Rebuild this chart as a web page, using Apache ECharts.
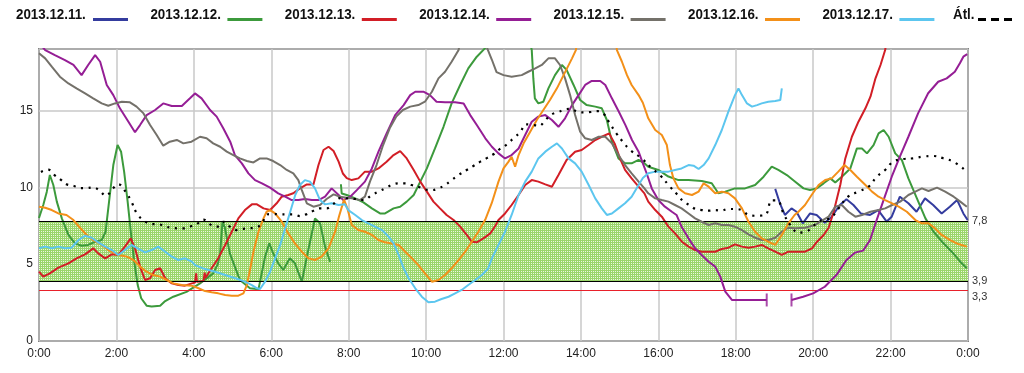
<!DOCTYPE html>
<html><head><meta charset="utf-8">
<script src="https://cdn.jsdelivr.net/npm/echarts@6/dist/echarts.min.js"></script>
<style>html,body{margin:0;padding:0;background:#fff}#c{width:1024px;height:373px}</style>
</head><body><div id="c"></div>
<script>
// ---- data: [hour, mmol/l]; null = gap in the record ----
const dayNames = ['2013.12.11.','2013.12.12.','2013.12.13.','2013.12.14.','2013.12.15.','2013.12.16.','2013.12.17.'];
const avgName = 'Átl.';
const xTicks = ['0:00','2:00','4:00','6:00','8:00','10:00','12:00','14:00','16:00','18:00','20:00','22:00','0:00'];
const limitHigh = 7.8, limitLow = 3.9, limitHypo = 3.3;

const d11 = [[19.02,9.9],[19.14,8.96],[19.27,8.2],[19.44,8.63],[19.57,8.41],[19.73,7.66],[19.92,8.3],[20.09,8.2],[20.3,7.7],[20.48,8.09],[20.69,8.85],[20.86,9.22],[21.04,8.85],[21.23,8.3],[21.47,8.2],[21.68,8.52],[21.9,7.77],[22.03,8.09],[22.24,9.39],[22.46,8.96],[22.67,8.41],[22.89,9.28],[23.1,8.85],[23.32,8.3],[23.53,8.74],[23.72,9.17],[23.88,8.3],[23.99,7.87]];

const d12 = [[0,8.0],[0.11,8.85],[0.2,9.7],[0.28,10.8],[0.37,10.15],[0.46,9.07],[0.59,7.98],[0.76,6.9],[0.93,6.35],[1.1,6.2],[1.27,6.25],[1.45,6.46],[1.62,6.57],[1.72,7.11],[1.81,9.07],[1.92,11.45],[2.03,12.75],[2.12,12.32],[2.2,11.0],[2.29,9.07],[2.38,6.9],[2.46,5.16],[2.55,3.64],[2.64,2.78],[2.78,2.3],[2.91,2.25],[3.13,2.3],[3.26,2.6],[3.47,2.88],[3.81,3.2],[4.16,3.75],[4.5,4.4],[4.62,5.0],[4.68,5.7],[4.74,7.77],[4.8,7.4],[4.93,5.7],[5.19,3.97],[5.45,3.43],[5.67,3.36],[5.84,5.48],[5.95,6.35],[6.05,5.7],[6.18,5.06],[6.31,4.62],[6.48,5.38],[6.61,5.06],[6.79,3.86],[6.92,5.48],[7.13,7.98],[7.26,7.66],[7.39,6.14],[7.52,5.16],null,[7.8,10.2],[7.82,9.6],[7.95,9.5],[8.17,9.28],[8.38,9.02],[8.6,8.63],[8.81,8.3],[8.94,8.3],[9.16,8.63],[9.33,8.74],[9.5,9.07],[9.68,9.5],[9.85,10.37],[10.02,11.23],[10.23,12.53],[10.45,13.94],[10.66,15.46],[10.88,16.66],[11.09,17.74],[11.31,18.5],[11.52,19.04],[11.7,20.5],[12.6,20.5],[12.73,18.93],[12.77,17.1],[12.81,15.79],[12.9,15.46],[13.03,15.57],[13.16,16.44],[13.33,17.3],[13.51,17.96],[13.63,17.64],[13.81,16.66],[13.98,15.68],[14.15,15.35],[14.37,15.25],[14.54,15.14],[14.67,14.38],[14.8,12.97],[14.97,11.88],[15.14,11.56],[15.31,11.56],[15.49,11.78],[15.64,11.56],[15.74,11.34],[16.0,11.13],[16.26,10.7],[16.52,10.47],[16.78,10.47],[17.12,10.41],[17.38,10.26],[17.55,9.61],[17.73,9.72],[17.98,9.93],[18.24,9.93],[18.5,10.15],[18.72,10.69],[18.93,11.34],[19.1,11.13],[19.32,10.8],[19.52,10.4],[19.75,9.93],[19.92,9.82],[20.09,9.93],[20.27,10.26],[20.44,10.58],[20.57,10.32],[20.74,10.69],[20.96,11.23],[21.13,12.53],[21.26,12.53],[21.39,12.21],[21.56,12.75],[21.69,13.51],[21.82,13.73],[21.95,13.29],[22.12,12.21],[22.29,11.78],[22.46,10.58],[22.68,9.28],[22.9,7.98],[23.11,7.11],[23.33,6.46],[23.58,5.81],[23.8,5.16],[23.97,4.73]];

const d13 = [[0,4.51],[0.11,4.19],[0.28,4.4],[0.5,4.77],[0.76,5.05],[0.97,5.38],[1.19,5.64],[1.4,6.03],[1.53,5.7],[1.71,5.38],[1.88,5.64],[2.05,5.6],[2.22,6.14],[2.37,6.68],[2.48,6.03],[2.61,4.84],[2.74,3.97],[2.87,4.08],[3.0,4.62],[3.13,4.73],[3.26,4.08],[3.43,3.75],[3.6,3.64],[3.77,3.6],[3.95,3.75],[4.03,3.8],[4.06,4.4],[4.08,3.85],[4.25,3.9],[4.28,4.45],[4.3,4.1],[4.46,4.73],[4.63,5.38],[4.81,6.25],[4.98,7.11],[5.15,7.98],[5.32,8.52],[5.5,8.89],[5.63,8.89],[5.8,8.63],[5.97,8.52],[6.14,8.96],[6.27,9.39],[6.44,9.5],[6.57,9.61],[6.74,9.93],[6.92,10.19],[7.09,10.19],[7.22,11.45],[7.35,12.43],[7.48,12.64],[7.61,12.36],[7.74,11.67],[7.85,10.9],[7.95,10.6],[8.08,10.47],[8.25,10.58],[8.42,11.02],[8.6,11.02],[8.77,11.23],[8.98,11.67],[9.16,12.1],[9.33,12.36],[9.5,11.88],[9.68,11.13],[9.85,10.37],[10.02,9.72],[10.19,9.07],[10.36,8.63],[10.53,8.2],[10.71,7.87],[10.88,7.44],[11.05,6.9],[11.18,6.46],[11.31,6.42],[11.48,6.68],[11.66,7.0],[11.79,7.5],[11.87,7.87],[12.04,8.3],[12.21,8.85],[12.39,9.5],[12.56,10.15],[12.73,10.47],[12.9,10.37],[13.08,10.19],[13.25,10.04],[13.42,10.8],[13.63,11.78],[13.85,12.32],[14.02,12.43],[14.2,12.75],[14.37,13.08],[14.54,13.29],[14.73,13.51],[14.87,12.86],[15.01,11.88],[15.14,11.13],[15.31,10.58],[15.49,10.04],[15.64,9.61],[15.74,9.07],[15.92,8.52],[16.09,8.09],[16.26,7.44],[16.43,7.0],[16.61,6.46],[16.78,6.14],[16.95,5.92],[17.12,5.81],[17.3,5.81],[17.47,5.81],[17.64,5.99],[17.81,6.07],[17.98,6.29],[18.16,6.14],[18.33,6.07],[18.5,6.14],[18.67,6.25],[18.84,6.03],[19.02,5.81],[19.19,5.6],[19.36,5.81],[19.54,5.81],[19.79,5.81],[19.97,6.03],[20.1,6.46],[20.27,6.9],[20.4,7.37],[20.53,8.41],[20.7,10.15],[20.83,11.88],[21.0,13.29],[21.17,14.27],[21.35,15.14],[21.48,15.9],[21.61,17.09],[21.74,17.96],[21.86,18.93],[21.95,20.5]];

const d14 = [[0,19.4],[0.16,18.93],[0.41,18.6],[0.67,18.28],[0.89,17.96],[1.1,17.3],[1.27,17.96],[1.45,18.6],[1.58,18.17],[1.75,16.66],[1.92,16.0],[2.09,15.14],[2.31,14.27],[2.48,13.58],[2.61,14.05],[2.78,14.7],[3.0,15.03],[3.21,15.46],[3.43,15.29],[3.69,15.29],[3.9,15.79],[4.03,16.11],[4.2,15.79],[4.42,15.03],[4.59,14.6],[4.76,13.84],[4.94,12.97],[5.06,12.1],[5.24,11.56],[5.41,10.91],[5.58,10.47],[5.76,10.26],[5.97,9.98],[6.18,9.61],[6.36,9.39],[6.53,9.17],[6.7,9.17],[6.87,9.24],[7.05,9.17],[7.22,9.17],[7.39,9.39],[7.56,9.93],[7.74,9.5],[7.86,9.17],[8.04,9.39],[8.21,9.82],[8.42,10.37],[8.6,11.23],[8.77,12.32],[8.98,13.51],[9.2,14.7],[9.42,15.35],[9.59,16.0],[9.72,16.22],[9.93,16.22],[10.1,16.0],[10.27,15.57],[10.49,15.53],[10.75,15.53],[10.97,15.46],[11.14,14.7],[11.31,14.05],[11.53,13.19],[11.7,12.64],[11.87,12.21],[12.04,11.88],[12.21,12.1],[12.39,12.53],[12.56,13.4],[12.73,14.27],[12.9,14.6],[13.08,14.7],[13.25,14.38],[13.42,13.94],[13.59,14.49],[13.77,15.35],[13.94,16.0],[14.11,16.66],[14.28,16.92],[14.5,16.92],[14.63,16.66],[14.8,15.79],[14.98,14.92],[15.15,14.05],[15.32,13.08],[15.49,12.32],[15.6,11.56],[15.7,10.9],[15.83,9.93],[16.0,9.17],[16.17,8.74],[16.35,8.41],[16.47,8.2],[16.6,7.44],[16.78,6.68],[16.95,6.03],[17.12,5.6],[17.3,5.16],[17.47,4.84],[17.6,4.19],[17.73,3.21],[17.9,2.67],[18.16,2.67],[18.5,2.67],[18.8,2.67],null,[19.44,2.67],[19.74,2.88],[20.0,3.1],[20.3,3.53],[20.6,4.29],[20.86,5.27],[21.08,5.75],[21.29,5.88],[21.47,6.57],[21.64,7.87],[21.85,9.39],[22.03,10.69],[22.24,12.0],[22.46,13.29],[22.71,14.81],[22.97,16.12],[23.23,16.87],[23.45,17.09],[23.66,17.52],[23.79,18.07],[23.88,18.5],[23.98,18.67]];

const d15 = [[0,18.72],[0.16,18.39],[0.33,17.85],[0.54,17.2],[0.76,16.76],[0.97,16.44],[1.19,16.11],[1.4,15.79],[1.62,15.46],[1.79,15.31],[1.96,15.46],[2.14,15.57],[2.35,15.53],[2.52,15.25],[2.7,14.81],[2.87,14.05],[3.04,13.4],[3.21,12.71],[3.38,12.97],[3.56,13.08],[3.73,12.86],[3.94,12.97],[4.16,13.29],[4.33,13.19],[4.5,12.86],[4.68,12.64],[4.85,12.32],[5.02,12.1],[5.19,11.88],[5.37,11.71],[5.54,11.62],[5.71,11.88],[5.88,11.88],[6.05,11.71],[6.23,11.45],[6.4,11.13],[6.57,10.91],[6.7,10.47],[6.79,9.82],[6.92,8.96],[7.09,8.74],[7.26,8.85],[7.43,9.24],[7.61,9.54],[7.78,9.39],[8.08,9.28],[8.29,9.17],[8.42,9.39],[8.55,10.37],[8.72,11.45],[8.89,12.75],[9.06,13.84],[9.23,14.6],[9.4,15.03],[9.59,15.25],[9.8,15.35],[9.97,15.57],[10.15,16.22],[10.32,17.09],[10.49,17.52],[10.66,18.17],[10.84,18.93],[10.95,20.5],[11.45,20.5],[11.58,19.04],[11.7,18.3],[11.82,17.5],[12.0,17.3],[12.21,17.2],[12.47,17.3],[12.64,17.52],[12.82,17.74],[12.99,17.96],[13.16,18.39],[13.33,18.39],[13.46,17.96],[13.59,17.09],[13.72,16.0],[13.85,14.7],[13.98,13.62],[14.11,13.19],[14.28,13.08],[14.46,13.29],[14.63,13.29],[14.8,12.86],[14.97,12.1],[15.14,11.45],[15.31,10.91],[15.49,10.37],[15.64,9.93],[15.74,9.61],[15.92,9.28],[16.09,9.17],[16.26,9.07],[16.43,8.85],[16.6,8.63],[16.78,8.3],[16.95,7.98],[17.12,7.76],[17.3,7.55],[17.47,7.66],[17.64,7.55],[17.81,7.55],[17.98,7.44],[18.16,7.22],[18.33,6.94],[18.5,6.72],[18.67,6.57],[18.84,6.57],[19.02,6.72],[19.19,7.11],[19.36,7.37],[19.54,7.33],[19.79,7.37],[20.05,7.55],[20.22,7.81],[20.4,8.09],[20.57,8.74],[20.74,8.85],[20.91,8.41],[21.09,8.09],[21.26,8.2],[21.48,8.41],[21.69,8.52],[21.86,8.63],[22.04,8.85],[22.25,9.07],[22.46,9.5],[22.64,9.72],[22.81,9.93],[22.98,9.76],[23.2,9.98],[23.41,9.72],[23.63,9.39],[23.8,9.07],[23.97,8.74]];

const d16 = [[0,8.74],[0.16,8.67],[0.33,8.52],[0.5,8.3],[0.71,8.2],[0.89,7.87],[1.06,7.37],[1.23,6.9],[1.4,6.57],[1.62,6.25],[1.83,5.86],[2.05,5.6],[2.27,5.49],[2.44,5.27],[2.61,4.84],[2.78,4.51],[2.95,4.29],[3.13,4.19],[3.3,3.97],[3.47,3.75],[3.69,3.64],[3.94,3.6],[4.12,3.43],[4.29,3.25],[4.46,3.17],[4.63,3.1],[4.81,2.99],[4.98,2.95],[5.15,2.95],[5.28,3.1],[5.37,3.64],[5.46,4.73],[5.54,5.81],[5.67,7.11],[5.8,7.98],[5.88,8.41],[5.97,8.52],[6.1,8.3],[6.27,7.76],[6.44,7.0],[6.61,6.35],[6.79,5.81],[6.96,5.38],[7.13,5.27],[7.3,5.49],[7.48,6.03],[7.65,7.11],[7.75,8.1],[7.88,9.2],[7.97,8.6],[8.08,7.55],[8.25,7.22],[8.42,7.11],[8.6,6.9],[8.77,6.57],[8.94,6.42],[9.11,6.35],[9.29,6.25],[9.46,5.81],[9.63,5.38],[9.8,4.94],[9.97,4.4],[10.15,3.86],[10.32,3.97],[10.49,4.29],[10.66,4.73],[10.84,5.27],[11.01,5.81],[11.18,6.46],[11.35,7.11],[11.53,7.9],[11.7,9.0],[11.87,10.37],[12.0,11.23],[12.13,11.67],[12.21,11.99],[12.3,11.34],[12.39,12.1],[12.52,12.86],[12.69,13.62],[12.86,14.38],[13.03,15.03],[13.2,15.68],[13.38,16.44],[13.51,17.09],[13.64,17.74],[13.77,18.39],[13.87,18.93],[13.95,20.5],[14.85,20.5],[14.93,18.93],[15.06,18.17],[15.19,17.3],[15.31,16.66],[15.49,16.0],[15.6,15.5],[15.74,14.49],[15.92,13.73],[16.09,13.4],[16.22,12.75],[16.3,11.45],[16.39,10.58],[16.52,9.93],[16.69,9.61],[16.87,9.5],[17.04,9.72],[17.17,10.26],[17.3,10.04],[17.47,9.61],[17.64,9.72],[17.81,9.61],[17.98,9.28],[18.16,8.63],[18.33,7.76],[18.5,7.11],[18.67,6.68],[18.84,6.46],[19.02,6.25],[19.19,6.9],[19.36,7.66],[19.52,8.2],[19.62,8.41],[19.79,8.85],[19.96,9.5],[20.14,10.15],[20.31,10.47],[20.48,10.58],[20.65,11.02],[20.81,11.45],[20.96,11.13],[21.13,10.69],[21.35,10.15],[21.52,9.72],[21.69,9.39],[21.86,9.17],[22.04,8.96],[22.21,8.74],[22.42,8.41],[22.64,7.87],[22.81,7.66],[22.98,7.66],[23.15,7.33],[23.32,6.9],[23.54,6.57],[23.75,6.31],[23.97,6.14]];

const d17 = [[0,6.03],[0.16,6.14],[0.33,6.03],[0.5,6.14],[0.67,6.03],[0.84,6.07],[1.02,6.57],[1.19,6.85],[1.36,6.72],[1.53,6.42],[1.71,6.14],[1.88,5.92],[2.05,5.6],[2.22,5.92],[2.39,6.25],[2.57,5.99],[2.74,5.77],[2.91,5.92],[3.08,6.14],[3.26,5.81],[3.43,5.49],[3.6,5.27],[3.77,5.38],[3.95,5.16],[4.03,4.94],[4.29,4.68],[4.55,4.51],[4.81,4.29],[5.07,4.08],[5.32,3.86],[5.5,3.64],[5.63,3.43],[5.71,3.38],[5.84,3.86],[5.97,4.51],[6.1,5.38],[6.23,6.25],[6.36,7.33],[6.49,8.41],[6.62,9.5],[6.74,10.15],[6.87,10.47],[7.0,10.37],[7.13,9.93],[7.26,9.17],[7.39,8.89],[7.56,8.96],[7.74,8.85],[7.9,8.9],[7.99,8.52],[8.17,8.2],[8.34,7.87],[8.51,7.66],[8.68,7.44],[8.86,7.22],[9.03,6.79],[9.16,6.35],[9.29,5.6],[9.42,4.73],[9.55,4.08],[9.72,3.43],[9.89,2.88],[10.06,2.52],[10.23,2.56],[10.4,2.73],[10.58,2.88],[10.75,3.1],[10.92,3.32],[11.09,3.64],[11.27,3.97],[11.44,4.29],[11.6,4.7],[11.7,5.38],[11.87,6.25],[12.04,7.11],[12.21,8.2],[12.39,9.5],[12.56,10.37],[12.73,11.02],[12.9,11.88],[13.08,12.32],[13.25,12.64],[13.38,12.86],[13.51,12.53],[13.68,11.88],[13.85,11.56],[14.02,11.02],[14.2,10.15],[14.37,9.28],[14.54,8.63],[14.67,8.2],[14.8,8.3],[14.97,8.63],[15.14,8.96],[15.31,9.39],[15.49,10.15],[15.6,10.6],[15.74,10.91],[15.92,11.02],[16.09,11.02],[16.26,11.02],[16.43,11.13],[16.6,11.23],[16.78,11.45],[16.91,11.41],[17.04,11.19],[17.17,11.45],[17.3,11.88],[17.47,12.75],[17.64,13.73],[17.81,14.92],[17.98,16.0],[18.07,16.44],[18.16,16.0],[18.29,15.46],[18.42,15.25],[18.55,15.35],[18.67,15.46],[18.84,15.57],[19.02,15.62],[19.15,15.68],[19.19,16.44]];

const avg = [[0.05,11.0],[0.24,11.15],[0.4,10.8],[0.56,10.5],[0.71,10.2],[0.89,10.1],[1.06,9.95],[1.23,9.95],[1.4,10.0],[1.56,9.8],[1.73,9.45],[1.9,9.9],[2.05,10.2],[2.24,9.7],[2.39,9.05],[2.54,8.25],[2.73,7.8],[2.91,7.6],[3.08,7.6],[3.26,7.45],[3.43,7.37],[3.6,7.33],[3.75,7.33],[3.9,7.44],[4.07,7.59],[4.25,7.9],[4.42,7.59],[4.6,7.44],[4.77,7.76],[4.93,7.44],[5.11,7.22],[5.24,7.29],[5.41,7.33],[5.58,7.37],[5.74,7.59],[5.91,8.24],[6.05,8.26],[6.22,8.24],[6.4,8.24],[6.57,8.24],[6.74,8.13],[6.9,8.24],[7.09,8.48],[7.26,8.63],[7.43,8.63],[7.6,8.9],[7.78,9.3],[7.99,9.28],[8.17,9.24],[8.38,9.17],[8.6,9.5],[8.77,9.72],[8.94,9.93],[9.11,10.15],[9.29,10.26],[9.46,10.26],[9.63,10.15],[9.8,10.04],[9.97,9.87],[10.15,9.82],[10.32,9.93],[10.49,10.15],[10.66,10.47],[10.84,10.8],[11.05,11.13],[11.22,11.39],[11.4,11.67],[11.57,11.9],[11.74,12.15],[11.91,12.5],[12.09,12.8],[12.26,13.2],[12.43,13.58],[12.58,14.1],[12.77,14.05],[12.92,14.0],[13.09,14.4],[13.25,14.75],[13.42,14.9],[13.59,15.07],[13.75,15.1],[13.92,14.9],[14.09,14.88],[14.26,14.9],[14.42,14.96],[14.58,14.8],[14.73,14.22],[14.92,13.5],[15.08,12.97],[15.27,12.43],[15.57,11.88],[15.83,11.24],[16.04,10.8],[16.3,10.04],[16.5,9.5],[16.65,9.07],[16.8,8.85],[16.95,8.6],[17.12,8.52],[17.3,8.48],[17.47,8.52],[17.62,8.48],[17.81,8.59],[17.98,8.59],[18.16,8.5],[18.33,8.2],[18.5,8.15],[18.76,8.2],[18.93,9.15],[19.07,9.15],[19.25,8.2],[19.44,7.44],[19.61,7.05],[19.79,7.1],[19.92,7.26],[20.13,7.76],[20.3,7.9],[20.45,8.0],[20.65,8.6],[20.9,9.39],[21.17,9.72],[21.45,10.08],[21.64,10.69],[21.86,11.13],[22.07,11.67],[22.33,11.84],[22.59,11.89],[22.84,12.0],[23.1,12.04],[23.36,11.89],[23.62,11.67],[23.92,11.13]];

const dayData = [d11, d12, d13, d14, d15, d16, d17];
const dayColors = ['#343c9e','#3c9a3c','#d21e26','#951e95','#74716a','#f39019','#5cc6ef'];

// ---- chart ----
const chart = echarts.init(document.getElementById('c'), null, {renderer:'canvas'});
const toData = arr => arr.map(p => p === null ? ['-','-'] : p);

function bandPattern(){
  const c = document.createElement('canvas'); c.width = 2; c.height = 2;
  const g = c.getContext('2d');
  g.fillStyle = '#eaf7df'; g.fillRect(0,0,2,2);
  g.fillStyle = '#9ad66a'; g.fillRect(0,0,1,2); g.fillRect(0,0,2,1);
  return c;
}

const grid = {left:39, right:56, top:49, bottom:32};
const series = [];
series.push({
  name:'limits', type:'line', data:[], silent:true, z:1,
  markArea:{silent:true, itemStyle:{color:{image:bandPattern(), repeat:'repeat'}},
    data:[[{yAxis:limitLow},{yAxis:limitHigh}]]},
  markLine:{silent:true, symbol:'none', animation:false,
    label:{position:'end', distance:4, color:'#333', fontSize:11, fontFamily:'Liberation Sans, Arial, sans-serif',
      formatter:p => String(p.value).replace('.',',')},
    data:[
      {yAxis:limitHigh, lineStyle:{color:'#000', width:1, type:'solid'}},
      {yAxis:limitLow, lineStyle:{color:'#000', width:1, type:'solid'}},
      {yAxis:limitHypo, lineStyle:{color:'#e8202a', width:1, type:'solid'}, label:{offset:[0,7]}}
    ]}
});
dayData.forEach((arr,i) => {
  series.push({name:dayNames[i], type:'line', data:toData(arr), showSymbol:false, symbol:'none',
    connectNulls:false, smooth:false, z:2+i, animation:false,
    lineStyle:{color:dayColors[i], width:2}});
});
series.push({name:avgName, type:'line', data:avg, showSymbol:false, symbol:'none', smooth:0.4, z:10, animation:false,
  lineStyle:{color:'#000', width:2.2, type:[2.2,5.5], cap:'butt'}});
// record-end caps on the 2013.12.14. gap
const gi = d14.indexOf(null);
series.push({name:'caps', type:'scatter', data:[d14[gi-1], d14[gi+1]], symbol:'rect', symbolSize:[2,13],
  itemStyle:{color:dayColors[3]}, z:11, silent:true, animation:false});

// legend as graphics
const graphics = [];
const legendNames = dayNames.concat([avgName]);
legendNames.forEach((nm,i) => {
  const x0 = i < 7 ? 16 + i*134.4 : 953;
  const lx = i < 7 ? x0 + 77 : 978;
  graphics.push({type:'text', x:x0, y:15, scaleX:0.89, originX:0,
    style:{text:nm, font:'bold 15px "Liberation Sans", Arial, sans-serif', fill:'#111', verticalAlign:'middle', align:'left'}});
  graphics.push({type:'line', shape:{x1:lx, y1:19.5, x2:lx+35, y2:19.5},
    style:{stroke: i < 7 ? dayColors[i] : '#000', lineWidth:3, lineDash: i < 7 ? null : [8,5]}});
});

chart.setOption({
  animation:false,
  backgroundColor:'#fff',
  grid:Object.assign({show:true, borderColor:'#222', borderWidth:1.5, backgroundColor:'transparent'}, grid),
  xAxis:{type:'value', min:0, max:24, interval:2,
    axisLine:{show:false}, axisTick:{show:false},
    axisLabel:{color:'#222', fontSize:12, margin:7, fontFamily:'Liberation Sans, Arial, sans-serif',
      formatter:v => xTicks[Math.round(v/2)]},
    splitLine:{show:true, lineStyle:{color:'#c8c8c8', width:1.5}}},
  yAxis:{type:'value', min:0, max:19, interval:5,
    axisLine:{show:false}, axisTick:{show:false},
    axisLabel:{color:'#222', fontSize:12, margin:6, showMaxLabel:false, fontFamily:'Liberation Sans, Arial, sans-serif'},
    splitLine:{show:true, lineStyle:{color:'#c8c8c8', width:1.5}}},
  graphic:graphics,
  series:series
});
</script></body></html>
